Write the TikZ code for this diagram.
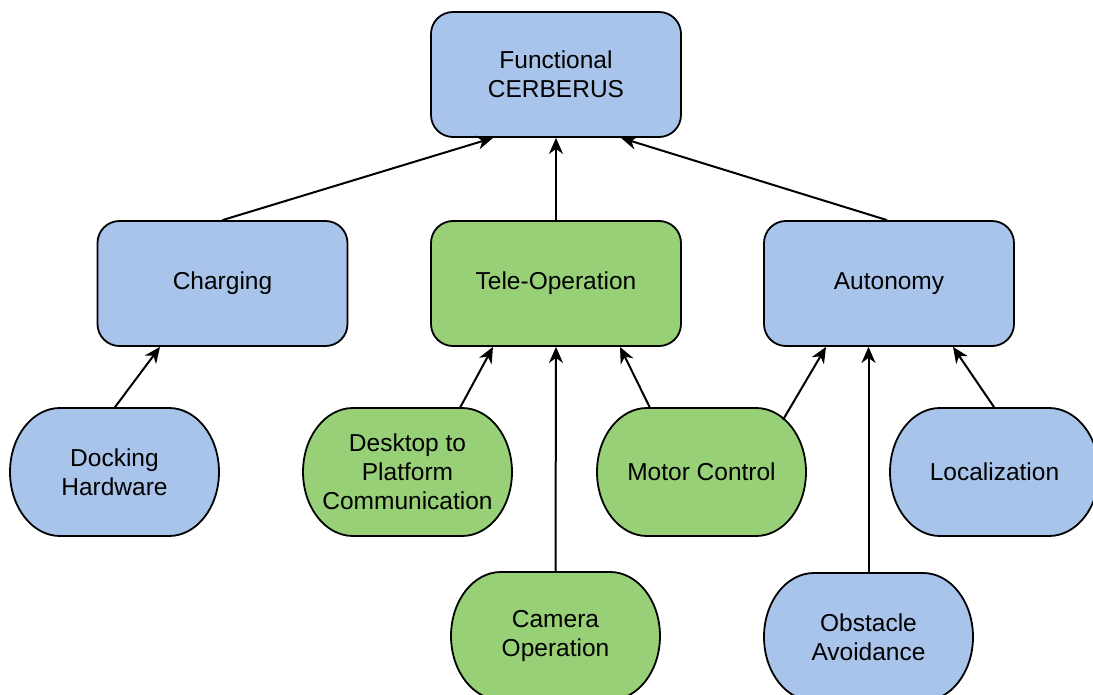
\documentclass[tikz,border=0pt]{standalone}
\usepackage{fontspec}
\setmainfont{Liberation Sans}
\usetikzlibrary{arrows.meta,calc}

\definecolor{boxblue}{HTML}{A9C4EB}
\definecolor{boxgreen}{HTML}{97D077}

\tikzset{
  outline/.style={draw=black, line width=1.8pt},
  box/.style={outline, rounded corners=22pt, minimum width=250pt, minimum height=125pt,
              align=center, inner sep=0pt, font=\fontsize{24.5}{29}\selectfont},
  pilltext/.style={minimum width=209pt, minimum height=128pt, align=center, inner sep=0pt,
              font=\fontsize{24.5}{29}\selectfont},
  link/.style={line width=2pt, -{Stealth[length=16pt,width=14pt,inset=5pt]}},
}

% Stadium-like terminator: flat top and bottom, elliptical ends.
% #1 name, #2 centre x, #3 centre y (measured downwards), #4 fill, #5 text
\newcommand\pillnode[5]{%
  \filldraw[outline, fill=#4]
    (#2-54.5,-#3+64) -- (#2+54.5,-#3+64)
    arc[start angle=90, end angle=-90, x radius=50, y radius=64]
    -- (#2-54.5,-#3-64)
    arc[start angle=270, end angle=90, x radius=50, y radius=64] -- cycle;
  \node[pilltext] (#1) at (#2,-#3) {#5};
}

\begin{document}
\begin{tikzpicture}[x=1pt, y=1pt]
  \useasboundingbox (0,0) rectangle (1093,-695);

  % top level
  \node[box, fill=boxblue] (func) at (556,-74.5) {Functional\\CERBERUS};

  % second level
  \node[box, fill=boxblue]  (charging) at (222.5,-283.5) {Charging};
  \node[box, fill=boxgreen] (teleop)   at (556,-283.5)   {Tele-Operation};
  \node[box, fill=boxblue]  (autonomy) at (889,-283.5)   {Autonomy};

  % leaves
  \pillnode{docking}{114.5}{472}{boxblue}{Docking\\Hardware}
  \pillnode{desktop}{407.5}{472}{boxgreen}{Desktop to\\Platform\\Communication}
  \pillnode{motor}{701.5}{472}{boxgreen}{Motor Control}
  \pillnode{local}{994.5}{472}{boxblue}{Localization}
  \pillnode{camera}{555.5}{636}{boxgreen}{Camera\\Operation}
  \pillnode{obstacle}{868.5}{637}{boxblue}{Obstacle\\Avoidance}

  % connectors to the top level
  \draw[link] (charging.north) -- ($(func.south)+(-63,0)$);
  \draw[link] (teleop.north) -- (func.south);
  \draw[link] ($(autonomy.north)+(-2,0)$) -- ($(func.south)+(65,0)$);

  % connectors to the second level
  \draw[link] (docking.north) -- ($(charging.south)+(-62.5,0)$);
  \draw[link] ($(desktop.north)+(52.5,0)$) -- ($(teleop.south)+(-63,0)$);
  \draw[link] (camera.north) -- (teleop.south);
  \draw[link] ($(motor.north)+(-51.5,0)$) -- ($(teleop.south)+(64,0)$);
  \draw[link] ($(motor.north)+(81.5,-12)$) -- ($(autonomy.south)+(-63,0)$);
  \draw[link] (obstacle.north) -- ($(autonomy.south)+(-20.5,0)$);
  \draw[link] (local.north) -- ($(autonomy.south)+(64,0)$);
\end{tikzpicture}
\end{document}
